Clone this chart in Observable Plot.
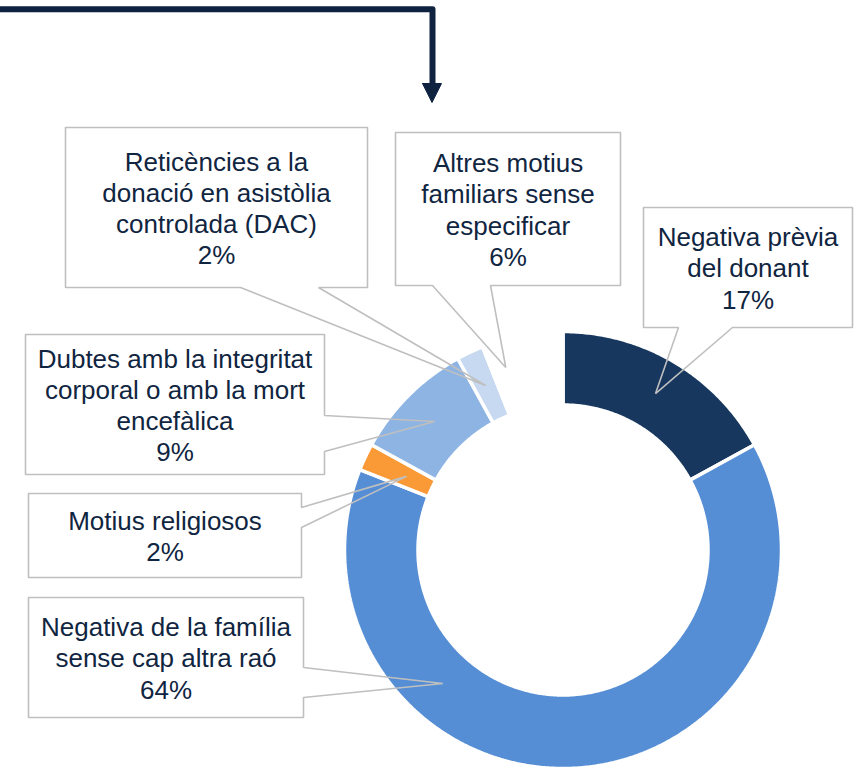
<!DOCTYPE html>
<html><head><meta charset="utf-8">
<script src="https://cdn.jsdelivr.net/npm/d3@7"></script>
<script src="https://cdn.jsdelivr.net/npm/@observablehq/plot@0.6"></script>
<style>html,body{margin:0;padding:0;background:#fff}#chart svg{display:block}</style>
</head><body><div id="chart"></div>
<script>
// ---- data ----
const categories = [
  "Negativa prèvia del donant",
  "Negativa de la família sense cap altra raó",
  "Motius religiosos",
  "Dubtes amb la integritat corporal o amb la mort encefàlica",
  "Reticències a la donació en asistòlia controlada (DAC)",
  "Altres motius familiars sense especificar"
];
const values = [17, 64, 2, 9, 2, 6];
const labelText = [
  "Negativa prèvia\ndel donant",
  "Negativa de la família\nsense cap altra raó",
  "Motius religiosos",
  "Dubtes amb la integritat\ncorporal o amb la mort\nencefàlica",
  "Reticències a la\ndonació en asistòlia\ncontrolada (DAC)",
  "Altres motius\nfamiliars sense\nespecificar"
];
const sliceColors = ["#17375E", "#558ED5", "#F99A36", "#8EB4E3", "#C6D9F1", "#FFFFFF"];

// ---- layout (pixel units) ----
const W = 859, H = 772;
const ring = {cx: 562.5, cy: 549.5, outer: 218.5, inner: 145};
const callouts = [
  {box: [643, 852, 207, 327], side: "bottom", base: [678, 732]},
  {box: [28, 303, 597, 717], side: "right", base: [667, 697], tipAngle: 222, tipFrac: 0.47},
  {box: [28, 301, 493, 577], side: "right", base: [507, 527], tipFrac: 0.38},
  {box: [25, 324, 334, 474], side: "right", base: [415, 451]},
  {box: [65, 367, 127, 287], side: "bottom", base: [240, 318]},
  {box: [395, 620, 132, 285], side: "bottom", base: [432, 490], tipAngle: 342.6, tipFrac: 0.63}
];
const arrowPath = [[0, 8.7], [432, 8.7], [432, 86]];
const arrowHead = [[422, 83], [441, 83], [431.5, 102]];
const textColor = "#10253F";

// ---- geometry from data ----
const total = d3.sum(values);
const ends = d3.cumsum(values).map(v => v / total * 360);
const starts = [0, ...ends.slice(0, -1)];
const rad = a => a * Math.PI / 180;
const pt = (a, r) => [ring.cx + r * Math.sin(rad(a)), ring.cy - r * Math.cos(rad(a))];

const slicePts = [];
categories.forEach((key, i) => {
  const a0 = starts[i], a1 = ends[i];
  const n = Math.max(2, Math.ceil((a1 - a0) / 0.5));
  const poly = [];
  for (let k = 0; k <= n; k++) poly.push(pt(a0 + (a1 - a0) * k / n, ring.outer));
  for (let k = n; k >= 0; k--) poly.push(pt(a0 + (a1 - a0) * k / n, ring.inner));
  poly.push(poly[0]);
  poly.forEach(([x, y]) => slicePts.push({key, x, y}));
});

const calloutPts = [];
const labels = [];
categories.forEach((key, i) => {
  const c = callouts[i];
  const [x1, x2, y1, y2] = c.box;
  const ang = c.tipAngle ?? (starts[i] + ends[i]) / 2;
  const frac = c.tipFrac ?? 0.5;
  const tip = pt(ang, ring.inner + (ring.outer - ring.inner) * frac);
  let poly;
  if (c.side === "bottom") {
    poly = [[x1, y1], [x2, y1], [x2, y2], [c.base[1], y2], tip, [c.base[0], y2], [x1, y2], [x1, y1]];
  } else {
    poly = [[x1, y1], [x2, y1], [x2, c.base[0]], tip, [x2, c.base[1]], [x2, y2], [x1, y2], [x1, y1]];
  }
  poly.forEach(([x, y]) => calloutPts.push({key, x, y}));
  labels.push({key, x: (x1 + x2) / 2, y: (y1 + y2) / 2, text: labelText[i] + "\n" + values[i] + "%"});
});

const chart = Plot.plot({
  width: W, height: H, margin: 0,
  x: {domain: [0, W], range: [0, W], axis: null},
  y: {domain: [0, H], range: [0, H], axis: null},
  color: {domain: categories, range: sliceColors},
  style: {fontFamily: "'Liberation Sans', Arial, sans-serif", background: "white"},
  marks: [
    Plot.line(arrowPath, {x: d => d[0], y: d => d[1], stroke: "#0F2240", strokeWidth: 6, strokeLinejoin: "round"}),
    Plot.line([...arrowHead, arrowHead[0]], {x: d => d[0], y: d => d[1], fill: "#0F2240", stroke: "#0F2240", strokeWidth: 1}),
    Plot.line(slicePts, {x: "x", y: "y", z: "key", fill: "key", stroke: "white", strokeWidth: 3.5, strokeLinejoin: "miter"}),
    Plot.line(calloutPts, {x: "x", y: "y", z: "key", fill: "none", stroke: "#BFBFBF", strokeWidth: 1.6, strokeLinejoin: "miter"}),
    Plot.text(labels, {x: "x", y: "y", text: "text", fontSize: 26, lineHeight: 1.2, fill: textColor, textAnchor: "middle", lineAnchor: "middle"})
  ]
});
document.getElementById("chart").appendChild(chart);
</script>
</body></html>
